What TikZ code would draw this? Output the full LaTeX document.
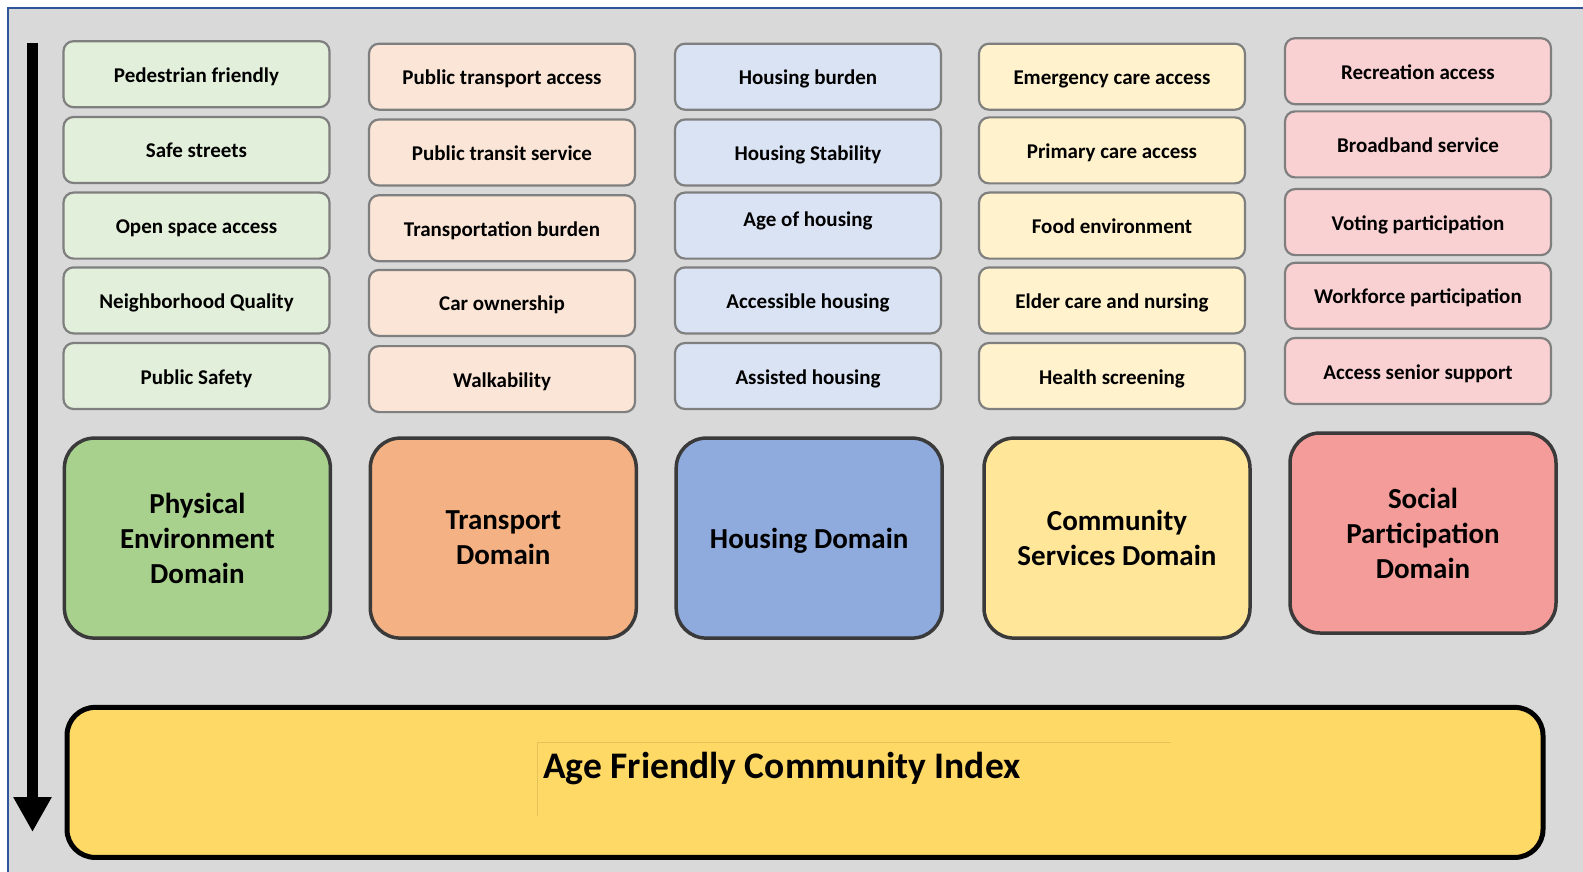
\documentclass[tikz,border=0pt]{standalone}
\usepackage{fontspec}
\setmainfont{Carlito}
\usetikzlibrary{arrows.meta}
\definecolor{mbg}{HTML}{D9D9D9}
\definecolor{mframe}{HTML}{2F5597}
\definecolor{mgray}{HTML}{7F7F7F}
\definecolor{mdark}{HTML}{3A3A3A}
\definecolor{cgreen}{HTML}{E2EFDA}
\definecolor{corange}{HTML}{FBE5D6}
\definecolor{cblue}{HTML}{DAE3F3}
\definecolor{cyellow}{HTML}{FFF2CC}
\definecolor{cpink}{HTML}{FAD1D3}
\definecolor{dgreen}{HTML}{A9D18E}
\definecolor{dorange}{HTML}{F4B183}
\definecolor{dblue}{HTML}{8FAADC}
\definecolor{dyellow}{HTML}{FFE699}
\definecolor{dred}{HTML}{F49C99}
\definecolor{idxfill}{HTML}{FFD966}
\definecolor{idxline}{HTML}{E6C25A}
\tikzset{
  cell/.style={draw=mgray, line width=2.2pt, rounded corners=10pt, minimum width=266pt, minimum height=66pt, inner sep=0pt, text height=20pt, text depth=4pt, font=\fontsize{21}{24}\selectfont\bfseries},
  domainbox/.style={draw=mdark, line width=3.5pt, rounded corners=30pt, minimum width=266pt, minimum height=200pt, align=center, font=\fontsize{29}{35}\selectfont\bfseries},
}

\begin{document}
\begin{tikzpicture}[x=1pt, y=-1pt]
    \useasboundingbox (0, 0) rectangle (1583, 872);
    \fill [mbg] (8, 8) rectangle (1600, 890);
    \draw [mframe, line width=2pt] (8, 890) -- (8, 8) -- (1600, 8);

    \coordinate (arrowtop) at (32.5, 43);
    \coordinate (arrowtip) at (32.5, 832);
    \draw [line width=11pt, -{Triangle[width=36pt, length=35pt]}] (arrowtop) -- (arrowtip);

    % physical environment
    \node [cell, fill=cgreen] (pedestrian) at (196.5, 74.2) {Pedestrian friendly};
    \node [cell, fill=cgreen] (safestreets) at (196.5, 150) {Safe streets};
    \node [cell, fill=cgreen] (openspace) at (196.5, 225.6) {Open space access};
    \node [cell, fill=cgreen] (neighborhood) at (196.5, 300.4) {Neighborhood Quality};
    \node [cell, fill=cgreen] (publicsafety) at (196.5, 376) {Public Safety};

    % transport
    \node [cell, fill=corange] (ptaccess) at (502, 76.7) {Public transport access};
    \node [cell, fill=corange] (ptservice) at (502, 152.5) {Public transit service};
    \node [cell, fill=corange] (tburden) at (502, 228.2) {Transportation burden};
    \node [cell, fill=corange] (carown) at (502, 302.9) {Car ownership};
    \node [cell, fill=corange] (walk) at (502, 379.1) {Walkability};

    % housing
    \node [cell, fill=cblue] (hburden) at (808, 76.7) {Housing burden};
    \node [cell, fill=cblue] (hstability) at (808, 152.5) {Housing Stability};
    \node [cell, fill=cblue, text depth=19pt] (hage) at (808, 225.6) {Age of housing};
    \node [cell, fill=cblue] (haccess) at (808, 300.4) {Accessible housing};
    \node [cell, fill=cblue] (hassist) at (808, 376) {Assisted housing};

    % community services
    \node [cell, fill=cyellow] (emergency) at (1112, 76.7) {Emergency care access};
    \node [cell, fill=cyellow] (primary) at (1112, 150.4) {Primary care access};
    \node [cell, fill=cyellow] (food) at (1112, 225.6) {Food environment};
    \node [cell, fill=cyellow] (eldercare) at (1112, 300.4) {Elder care and nursing};
    \node [cell, fill=cyellow] (screening) at (1112, 376) {Health screening};

    % social participation
    \node [cell, fill=cpink] (recreation) at (1418, 71.2) {Recreation access};
    \node [cell, fill=cpink] (broadband) at (1418, 144.4) {Broadband service};
    \node [cell, fill=cpink] (voting) at (1418, 222.1) {Voting participation};
    \node [cell, fill=cpink] (workforce) at (1418, 295.8) {Workforce participation};
    \node [cell, fill=cpink] (senior) at (1418, 371) {Access senior support};

    % domains
    \node [domainbox, fill=dgreen] (physdomain) at (197.4, 538.1) {Physical\\Environment\\Domain};
    \node [domainbox, fill=dorange] (transdomain) at (503.3, 538.1) {Transport\\Domain};
    \node [domainbox, fill=dblue, text depth=0pt] (housdomain) at (809.2, 538.1) {Housing Domain};
    \node [domainbox, fill=dyellow] (commdomain) at (1117, 538.1) {Community\\Services Domain};
    \node [domainbox, fill=dred] (socdomain) at (1423, 533) {Social\\Participation\\Domain};

    \node [draw=black, line width=5pt, rounded corners=28pt, fill=idxfill, minimum width=1476pt, minimum height=150pt] (index) at (805, 782.4) {};
    \draw [idxline, line width=0.6pt] (537, 816) -- (537, 742) -- (1171, 742);
    \node [anchor=west, inner sep=0pt, font=\fontsize{37.5}{42}\selectfont\bfseries] (indexlabel) at (543, 769) {Age Friendly Community Index};
\end{tikzpicture}
\end{document}
